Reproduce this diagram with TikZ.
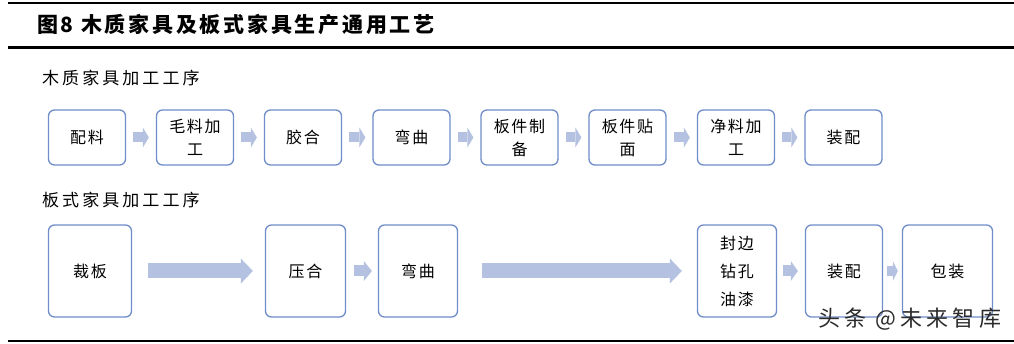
\documentclass[tikz,border=0pt]{standalone}
\usepackage{fontspec}
\usepackage{tikz}
\usetikzlibrary{arrows.meta}
\newfontfamily\cjk{Noto Sans CJK SC}
\newfontfamily\cjkhead[LetterSpace=13]{Noto Sans CJK SC}
\newfontfamily\cjksub[LetterSpace=18]{Noto Sans CJK SC}
\newfontfamily\cjkbox[LetterSpace=10]{Noto Sans CJK SC}
\newfontfamily\cjkmark[LetterSpace=19]{Noto Sans CJK SC}
\definecolor{boxblue}{HTML}{6F8DC8}
\definecolor{flowblue}{HTML}{B4C1E0}
\definecolor{markgray}{HTML}{2B2B2B}

\begin{document}
\begin{tikzpicture}[
  x=1pt, y=-1pt,
  inner sep=0pt,
  line cap=butt,
  procbox/.style={draw=boxblue, line width=1.3pt, rounded corners=6pt, fill=white,
    minimum width=77pt, minimum height=55pt, align=center,
    font=\cjkbox\fontsize{16}{23}\selectfont},
  tallbox/.style={procbox, minimum height=92pt, font=\cjkbox\fontsize{16}{28}\selectfont},
  flow/.style={draw=flowblue, line width=10pt, -{Triangle[length=6pt, width=20pt, line width=0pt]}},
  bigflow/.style={draw=flowblue, line width=15pt, -{Triangle[length=12pt, width=25pt, line width=0pt]}},
]
\useasboundingbox (0,0) rectangle (1014,344);
\fill[white] (0,0) rectangle (1014,344);

% ---------- heading and rules ----------
\draw[line width=2.2pt] (8,3) -- (1014,3);
\draw[line width=2.2pt] (8,47.5) -- (1014,47.5);
\draw[line width=2.2pt] (8,341) -- (1014,341);
\node[anchor=west, font=\cjkhead\bfseries\fontsize{21}{21}\selectfont] (title) at (37,25) {图8 木质家具及板式家具生产通用工艺};

% ---------- (a) wood furniture ----------
\node[anchor=west, font=\cjksub\fontsize{17}{17}\selectfont] (woodhead) at (42,78) {木质家具加工工序};
\foreach \n/\cx/\t in {1/87/配料, 2/195/{毛料加\\工}, 3/303/胶合, 4/411.5/弯曲,
    5/519.5/{板件制\\备}, 6/627.5/{板件贴\\面}, 7/736/{净料加\\工}, 8/843.5/装配} {
  \node[procbox] (w\n) at (\cx,137.5) {\t};
}
\foreach \a/\b in {1/2, 2/3, 3/4, 4/5, 5/6, 6/7, 7/8} {
  \draw[flow] ([xshift=7pt]w\a.east) -- ([xshift=-7pt]w\b.west);
}

% ---------- (b) panel furniture ----------
\node[anchor=west, font=\cjksub\fontsize{17}{17}\selectfont] (panelhead) at (42,200) {板式家具加工工序};
\node[tallbox, minimum width=83pt] (p1) at (90,271) {裁板};
\node[tallbox, minimum width=80pt] (p2) at (305.5,271) {压合};
\node[tallbox, minimum width=79pt] (p3) at (418,271) {弯曲};
\node[tallbox, minimum width=79pt] (p4) at (737,271) {封边\\钻孔\\油漆};
\node[tallbox, minimum width=77pt] (p5) at (844,271) {装配};
\node[tallbox, minimum width=90pt] (p6) at (947.5,271) {包装};

\draw[bigflow] ([xshift=16pt]p1.east) -- ([xshift=-12pt]p2.west);
\draw[flow, line width=11pt, -{Triangle[length=8pt, width=20pt, line width=0pt]}] ([xshift=8pt]p2.east) -- ([xshift=-6pt]p3.west);
\draw[bigflow] ([xshift=24pt]p3.east) -- ([xshift=-15pt]p4.west);
\draw[flow, line width=11pt, -{Triangle[length=7pt, width=20pt, line width=0pt]}] ([xshift=6pt]p4.east) -- ([xshift=-7pt]p5.west);
\draw[flow, -{Triangle[length=5pt, width=20pt, line width=0pt]}] ([xshift=4pt]p5.east) -- ([xshift=-4pt]p6.west);

\node[anchor=west, text=markgray, font=\cjkmark\fontsize{22}{22}\selectfont] (mark) at (818,319) {头条 @未来智库};
\end{tikzpicture}
\end{document}
